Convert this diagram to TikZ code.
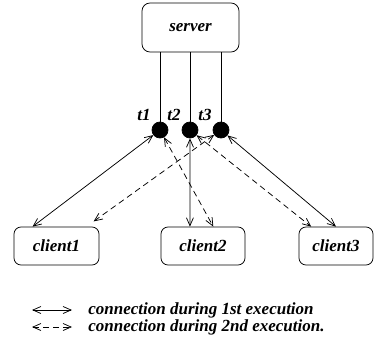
\documentclass[tikz,border=0pt]{standalone}
\usepackage{fontspec}
\setmainfont{Liberation Serif}
\usetikzlibrary{arrows.meta}
\tikzset{every picture/.style={line width=0.75pt}}
\tikzset{
  txt/.style={font=\fontsize{17}{20}\selectfont\bfseries\itshape},
  box/.style={txt, draw, rounded corners=7pt, inner sep=0pt},
  thread/.style={circle, draw, fill=black, inner sep=0pt, minimum size=16pt},
  tlabel/.style={txt, inner sep=1pt, label distance=3pt},
  barb/.tip={Straight Barb[length=8pt,width=7pt]},
  firstrun/.style={barb-barb},
  secondrun/.style={barb-barb, dash pattern=on 6pt off 4pt},
}

\begin{document}
\begin{tikzpicture}[x=1pt,y=1pt,yscale=-1,xscale=1]
    \useasboundingbox (0,0) rectangle (375,351);
    \node [box, rounded corners=8pt, minimum width=97pt, minimum height=49pt] (server) at (190.5,27.5) {server};
    \node [thread, label={[tlabel]135:t1}] (t1) at (160,130) {};
    \node [thread, label={[tlabel]135:t2}] (t2) at (190,130) {};
    \node [thread, label={[tlabel]135:t3}] (t3) at (221,130) {};
    \node [box, minimum width=85pt, minimum height=38pt] (client1) at (56.5,246) {client1};
    \node [box, minimum width=84pt, minimum height=38pt] (client2) at (203,246) {client2};
    \node [box, minimum width=74pt, minimum height=38pt] (client3) at (336,246) {client3};
    % threads hanging off the server
    \draw (t1 |- server.south) -- (t1);
    \draw (t2 |- server.south) -- (t2);
    \draw (t3 |- server.south) -- (t3);
    % 1st execution
    \draw [firstrun] (t1) -- (client1.141);
    \draw [firstrun] (t2) -- (client2.124);
    \draw [firstrun] (t3) -- (client3.north);
    % 2nd execution
    \draw [secondrun] (t1) -- (client2.62);
    \draw [secondrun] (t2) -- (client3.142);
    \draw [secondrun, shorten >=9pt] (t3) -- (client1.33);
    % legend
    \coordinate (key1a) at (32,310);
    \coordinate (key1b) at (72,310);
    \coordinate (key2a) at (32,327);
    \coordinate (key2b) at (72,327);
    \draw [firstrun] (key1a) -- (key1b);
    \draw [secondrun] (key2a) -- (key2b);
    \node [txt, anchor=west, inner sep=0pt] (key1) at (88,310) {connection during 1st execution};
    \node [txt, anchor=west, inner sep=0pt] (key2) at (88,327) {connection during 2nd execution.};
\end{tikzpicture}
\end{document}
